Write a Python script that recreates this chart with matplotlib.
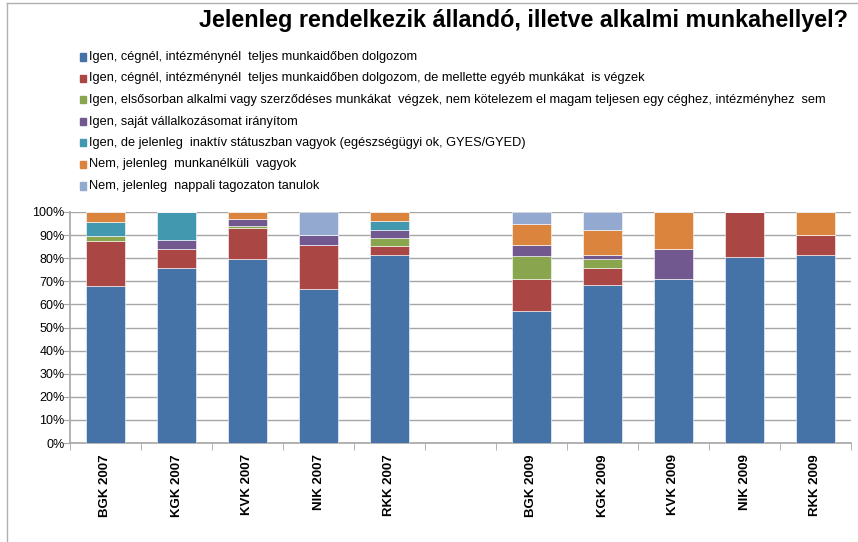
import matplotlib
matplotlib.use('Agg')
import matplotlib.pyplot as plt
import numpy as np

plt.rcParams['font.family'] = ['Liberation Sans', 'DejaVu Sans']

#Categories (empty slot between 2007 and 2009)
categories = ['BGK 2007', 'KGK 2007', 'KVK 2007', 'NIK 2007', 'RKK 2007', '',
              'BGK 2009', 'KGK 2009', 'KVK 2009', 'NIK 2009', 'RKK 2009']

#Series values in percent
full_time = [67.9, 75.9, 79.6, 66.7, 81.3, 0, 57.3, 68.3, 70.9, 80.6, 81.2]
full_time_extra = [19.5, 8.0, 13.5, 18.9, 4.0, 0, 13.8, 7.6, 0, 19.4, 9.0]
casual = [2.1, 0, 1.0, 0, 3.4, 0, 9.9, 3.7, 0, 0, 0]
own_business = [0, 3.8, 2.9, 4.6, 3.6, 0, 4.6, 1.9, 13.0, 0, 0]
inactive = [6.2, 12.3, 0, 0, 3.8, 0, 0, 0, 0, 0, 0]
unemployed = [4.3, 0, 3.0, 0, 3.9, 0, 9.2, 10.7, 16.1, 0, 9.8]
student = [0, 0, 0, 9.8, 0, 0, 5.2, 7.8, 0, 0, 0]

series = [full_time, full_time_extra, casual, own_business, inactive, unemployed, student]
names = ['Igen, cégnél, intézménynél  teljes munkaidőben dolgozom',
         'Igen, cégnél, intézménynél  teljes munkaidőben dolgozom, de mellette egyéb munkákat  is végzek',
         'Igen, elsősorban alkalmi vagy szerződéses munkákat  végzek, nem kötelezem el magam teljesen egy céghez, intézményhez  sem',
         'Igen, saját vállalkozásomat irányítom',
         'Igen, de jelenleg  inaktív státuszban vagyok (egészségügyi ok, GYES/GYED)',
         'Nem, jelenleg  munkanélküli  vagyok',
         'Nem, jelenleg  nappali tagozaton tanulok']
colors = ['#4572A7', '#AA4643', '#89A54E', '#71588F', '#4198AF', '#DB843D', '#93A9CF']

fig = plt.figure(figsize=(8.58, 5.42), dpi=100)
ax = fig.add_axes([70/858, 99/542, 781/858, 231/542])

x = np.arange(len(categories))
bottom = np.zeros(len(categories))
for vals, c in zip(series, colors):
    vals = np.array(vals)
    ax.bar(x, vals, 0.56, bottom=bottom, color=c, edgecolor='#ffffff', linewidth=0.4, zorder=3)
    bottom += vals

#Axes settings
ax.set_xlim(-0.5, len(categories) - 0.5)
ax.set_ylim(0, 100)
ax.set_yticks(np.arange(0, 101, 10))
ax.set_yticklabels([f'{v}%' for v in range(0, 101, 10)], fontsize=9)
ax.yaxis.grid(True, color='#a6a6a6', linewidth=1, zorder=0)
ax.set_xticks(x)
ax.set_xticklabels(categories, rotation=90, fontsize=9.5, fontweight='bold')
ax.set_xticks(np.arange(-0.5, len(categories)), minor=True)
ax.tick_params(axis='x', which='major', length=0, pad=8)
ax.tick_params(axis='x', which='minor', length=5, color='#a6a6a6')
ax.tick_params(axis='y', length=5, color='#a6a6a6', pad=-1)
for s in ['top', 'right']:
    ax.spines[s].set_visible(False)
for s in ['left', 'bottom']:
    ax.spines[s].set_color('#a6a6a6')
    ax.spines[s].set_linewidth(1.2)

#Legend drawn as a column of entries
for i, (n, c) in enumerate(zip(names, colors)):
    yy = 1 - (57 + i * 21.5) / 542
    fig.patches.append(plt.Rectangle((80/858, yy - 3.5/542), 6/858, 7/542,
                                     transform=fig.transFigure, color=c, figure=fig))
    fig.text(89/858, yy, n, fontsize=9.2, va='center', ha='left')

#Title
fig.text(848/858, 1 - 21/542, 'Jelenleg rendelkezik állandó, illetve alkalmi munkahellyel?',
         fontsize=16.8, fontweight='bold', ha='right', va='center')

#Chart border
fig.add_artist(plt.Line2D([7/858, 7/858], [0, 1 - 3/542], color='#b0b0b0', lw=1))
fig.add_artist(plt.Line2D([7/858, 1], [1 - 3/542, 1 - 3/542], color='#b0b0b0', lw=1))

fig.savefig('out.png', dpi=100)
